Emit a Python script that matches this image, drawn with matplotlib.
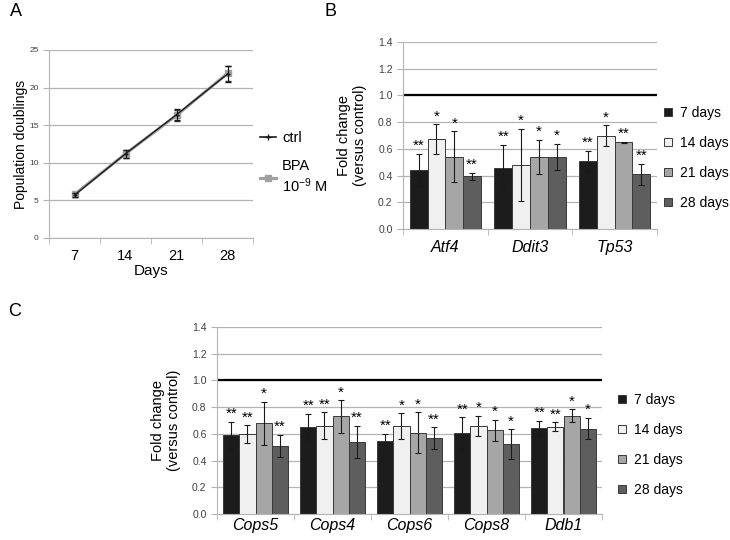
import numpy as np
import matplotlib
matplotlib.use("Agg")
import matplotlib.pyplot as plt
from matplotlib.patches import Patch
from matplotlib.lines import Line2D

plt.rcParams['font.family'] = ['Liberation Sans', 'DejaVu Sans']
plt.rcParams['mathtext.fontset'] = 'custom'
plt.rcParams['mathtext.rm'] = 'Liberation Sans'
plt.rcParams['mathtext.default'] = 'regular'

# panel A data
days = ["7", "14", "21", "28"]
ctrl = [5.7, 11.2, 16.4, 21.8]
ctrl_err = [0.3, 0.5, 0.7, 1.1]
bpa = [5.8, 11.2, 16.3, 21.9]
bpa_err = [0.3, 0.5, 0.7, 1.0]

# panel B data
genes_b = ["Atf4", "Ddit3", "Tp53"]
b_vals = [[0.445, 0.46, 0.51],
          [0.675, 0.48, 0.70],
          [0.54, 0.54, 0.65],
          [0.395, 0.54, 0.41]]
b_err = [[0.12, 0.17, 0.075],
         [0.11, 0.27, 0.075],
         [0.19, 0.13, 0.005],
         [0.025, 0.10, 0.08]]
b_stars = [["**", "**", "**"],
           ["*", "*", "*"],
           ["*", "*", "**"],
           ["**", "*", "**"]]

# panel C data
genes_c = ["Cops5", "Cops4", "Cops6", "Cops8", "Ddb1"]
c_vals = [[0.59, 0.65, 0.55, 0.606, 0.643],
          [0.60, 0.66, 0.66, 0.66, 0.653],
          [0.68, 0.73, 0.61, 0.626, 0.736],
          [0.51, 0.54, 0.57, 0.524, 0.64]]
c_err = [[0.10, 0.10, 0.05, 0.12, 0.055],
         [0.065, 0.10, 0.095, 0.075, 0.033],
         [0.16, 0.12, 0.15, 0.08, 0.05],
         [0.085, 0.12, 0.08, 0.11, 0.08]]
c_stars = [["**", "**", "**", "**", "**"],
           ["**", "**", "*", "*", "**"],
           ["*", "*", "*", "*", "*"],
           ["**", "**", "**", "*", "*"]]

series = ["7 days", "14 days", "21 days", "28 days"]
colors = ["#1c1c1c", "#f0f0f0", "#a6a6a6", "#5e5e5e"]
gridc = "#b4b4b4"

fig = plt.figure(figsize=(7.3, 5.4), dpi=100)
W, H = 730, 540


def px_axes(l, t, r, b):
    return fig.add_axes([l / W, (H - b) / H, (r - l) / W, (b - t) / H])


def style_cat_axis(ax, n, labels, italic, labsize, pad):
    ax.set_xlim(-0.5, n - 0.5)
    ax.set_xticks(range(n))
    ax.set_xticklabels(labels, fontsize=labsize, style='italic' if italic else 'normal')
    ax.set_xticks(np.arange(-0.5, n, 1.0), minor=True)
    ax.tick_params(axis='x', which='major', length=0, pad=pad)
    ax.tick_params(axis='x', which='minor', length=4, color=gridc, direction='out')
    for s in ['top', 'right']:
        ax.spines[s].set_visible(False)
    ax.spines['left'].set_color(gridc)
    ax.spines['bottom'].set_color(gridc)
    ax.tick_params(axis='y', length=4, color=gridc, labelcolor="#404040")
    ax.yaxis.grid(True, color=gridc, lw=0.9)
    ax.set_axisbelow(True)


# ---- A ----
axA = px_axes(49, 50, 253, 238)
x = np.arange(len(days))
axA.errorbar(x, bpa, yerr=bpa_err, color="#a0a0a0", lw=2.2, marker='s', ms=5,
             ecolor="#333333", elinewidth=0.8, capsize=2, zorder=3)
axA.errorbar(x, ctrl, yerr=ctrl_err, color="#1a1a1a", lw=1.0, marker='+', ms=3,
             ecolor="#1a1a1a", elinewidth=0.8, capsize=2, zorder=4)
axA.set_ylim(0, 25)
axA.set_yticks([0, 5, 10, 15, 20, 25])
style_cat_axis(axA, 4, days, False, 10.5, 8)
axA.tick_params(axis='y', labelsize=6)
axA.set_ylabel("Population doublings", fontsize=10, labelpad=1)
axA.set_xlabel("Days", fontsize=11, labelpad=1)
hA = [Line2D([], [], color="#1a1a1a", lw=1.2, marker='+', ms=4),
      Line2D([], [], color="#a0a0a0", lw=2.2, marker='s', ms=4)]
axA.legend(hA, ["ctrl", "BPA\n$10^{-9}$ M"], loc='upper left', bbox_to_anchor=(1.035, 0.57),
           frameon=False, fontsize=10.5, handlelength=1.1, handletextpad=0.4,
           labelspacing=1.0, borderpad=0, borderaxespad=0)


def bar_panel(ax, genes, vals, errs, stars, pad, legx, legy):
    n = len(genes)
    xs = np.arange(n)
    w = 0.21
    for i in range(4):
        pos = xs + (i - 1.5) * w
        ax.bar(pos, vals[i], w, color=colors[i], edgecolor="#3a3a3a", lw=0.7, zorder=2)
        ax.errorbar(pos, vals[i], yerr=errs[i], fmt='none', ecolor="#1a1a1a",
                    elinewidth=0.8, capsize=2, capthick=0.8, zorder=3)
        for p, v, e, s in zip(pos, vals[i], errs[i], stars[i]):
            ax.text(p, v + e + 0.005, s, ha='center', va='bottom', fontsize=11, zorder=4)
    ax.axhline(1.0, color="black", lw=1.6, zorder=2)
    ax.set_ylim(0, 1.4)
    ax.set_yticks(np.arange(0, 1.41, 0.2))
    ax.set_yticklabels(["%.1f" % v for v in np.arange(0, 1.41, 0.2)])
    style_cat_axis(ax, n, genes, True, 11.5, pad)
    ax.tick_params(axis='y', labelsize=7.5)
    ax.set_ylabel("Fold change\n(versus control)", fontsize=10.5, labelpad=8)
    handles = [Patch(facecolor=c, edgecolor="#3a3a3a", lw=0.7) for c in colors]
    ax.legend(handles, series, loc='center left', bbox_to_anchor=(legx, legy), frameon=False,
              fontsize=10, handlelength=0.55, handleheight=0.55, handletextpad=0.6,
              labelspacing=1.15, borderpad=0, borderaxespad=0)


# ---- B ----
axB = px_axes(403, 42, 657, 229)
bar_panel(axB, genes_b, b_vals, b_err, b_stars, 8, 1.028, 0.38)

# ---- C ----
axC = px_axes(217, 327, 602, 514)
bar_panel(axC, genes_c, c_vals, c_err, c_stars, 3, 1.042, 0.37)

fig.text(10 / W, 1 - 12 / H, "A", fontsize=13, va='center', ha='left')
fig.text(324 / W, 1 - 12 / H, "B", fontsize=13, va='center', ha='left')
fig.text(8 / W, 1 - 312 / H, "C", fontsize=13, va='center', ha='left')

fig.savefig("out.png", dpi=100)
